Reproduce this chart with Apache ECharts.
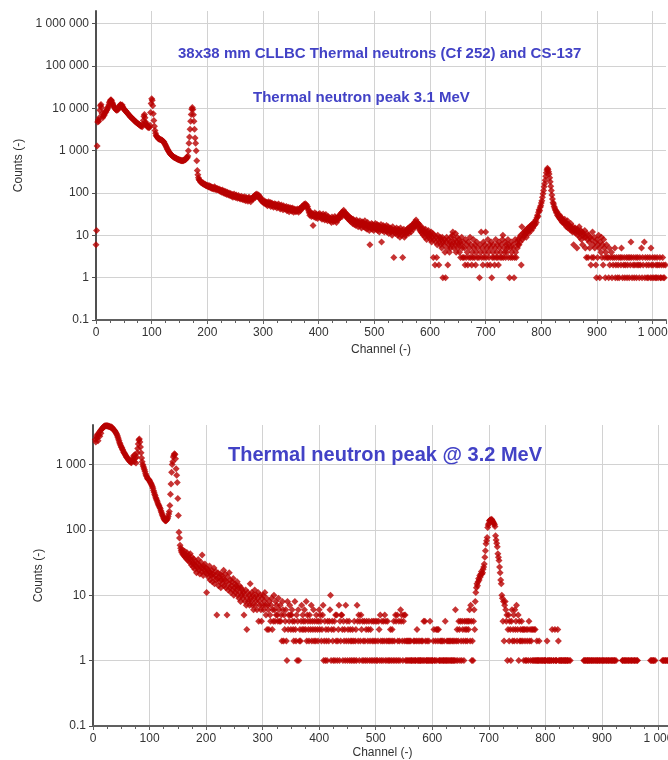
<!DOCTYPE html>
<html>
<head>
<meta charset="utf-8">
<title>CLLBC spectra</title>
<script src="https://cdn.jsdelivr.net/npm/echarts@6/dist/echarts.min.js"></script>
<style>
  html, body { margin: 0; padding: 0; background: #fff; }
  #chart { width: 668px; height: 760px; }
</style>
</head>
<body>
<div id="chart"></div>
<script>
// counts per channel (0 = empty channel, not drawn)
// upper plot: 38x38 mm CLLBC, Cf 252 + Cs-137
var topCounts0 = [ // ch 0-199
  6, 13, 1300, 4800, 5300, 5000, 6000, 9000, 11500, 12300, 10500, 7500, 6000, 6500, 7200, 7000, 7800, 8500, 8200, 9000,
  9400, 10200, 11000, 12000, 13500, 14500, 15500, 16000, 15200, 13800, 12800, 11800, 11200, 10500, 10200, 9600, 9300, 9000, 9500, 9200,
  9800, 10500, 11200, 11800, 12300, 11800, 11500, 12000, 11000, 10200, 9600, 9400, 9000, 8700, 8500, 8100, 7800, 7600, 7300, 7100,
  6800, 6600, 6300, 6200, 6000, 5800, 5600, 5500, 5300, 5200, 5000, 4900, 4700, 4600, 4500, 4400, 4300, 4200, 4100, 4000,
  3900, 3800, 3900, 3700, 4200, 5200, 6500, 7200, 6000, 4800, 4400, 4100, 3800, 3600, 3700, 3500, 3600, 4000, 8000, 13000,
  17000, 15500, 11500, 7500, 5200, 3800, 3000, 2600, 2300, 2200, 2100, 2000, 1950, 1900, 1900, 1850, 1850, 1800, 1800, 1750,
  1700, 1650, 1600, 1500, 1420, 1350, 1250, 1180, 1100, 1050, 980, 940, 900, 860, 830, 800, 780, 760, 740, 720,
  700, 690, 680, 670, 660, 650, 640, 630, 620, 610, 600, 600, 590, 590, 580, 580, 590, 580, 600, 600,
  610, 620, 650, 700, 680, 750, 1000, 1500, 2100, 3200, 5000, 7200, 9500, 10500, 9400, 7100, 5000, 3200, 2000, 1500,
  1000, 580, 340, 270, 230, 210, 200, 195, 180, 185, 175, 170, 165, 172, 160, 158, 162, 150, 155, 148
];
var topCounts1 = [ // ch 200-399
  145, 152, 140, 138, 148, 135, 142, 130, 138, 128, 136, 125, 132, 140, 122, 130, 126, 118, 128, 122,
  118, 125, 112, 120, 108, 115, 105, 118, 110, 100, 112, 104, 96, 108, 100, 92, 105, 98, 90, 100,
  94, 86, 98, 90, 84, 92, 80, 88, 95, 82, 86, 78, 90, 84, 75, 82, 88, 76, 80, 72,
  78, 84, 74, 70, 80, 76, 68, 82, 72, 66, 78, 74, 70, 64, 76, 80, 68, 72, 62, 74,
  70, 76, 80, 72, 84, 88, 78, 92, 86, 95, 88, 82, 90, 78, 84, 72, 76, 66, 70, 62,
  64, 58, 66, 60, 56, 62, 54, 60, 50, 58, 62, 52, 56, 60, 48, 55, 58, 50, 54, 46,
  52, 56, 48, 54, 50, 44, 52, 48, 55, 46, 50, 42, 48, 52, 44, 47, 40, 50, 45, 42,
  46, 42, 48, 38, 44, 40, 46, 36, 42, 45, 39, 43, 37, 44, 40, 35, 42, 38, 41, 36,
  40, 37, 42, 38, 35, 40, 43, 38, 45, 42, 48, 44, 50, 47, 54, 52, 56, 50, 53, 46,
  48, 42, 38, 34, 30, 36, 32, 28, 33, 29, 17, 31, 27, 34, 30, 26, 32, 28, 25, 30
];
var topCounts2 = [ // ch 400-599
  31, 27, 33, 29, 26, 30, 24, 28, 32, 25, 29, 23, 27, 31, 24, 26, 22, 28, 25, 23,
  26, 22, 24, 20, 27, 23, 25, 21, 24, 28, 22, 26, 20, 25, 23, 27, 24, 29, 26, 32,
  30, 34, 28, 36, 33, 39, 31, 35, 29, 33, 27, 31, 25, 29, 24, 27, 22, 26, 21, 25,
  23, 19, 24, 21, 18, 22, 20, 17, 23, 19, 21, 16, 20, 18, 22, 17, 19, 15, 21, 18,
  20, 16, 18, 22, 15, 19, 17, 14, 20, 16, 18, 13, 6, 17, 15, 19, 14, 18, 16, 13,
  17, 15, 19, 14, 16, 18, 13, 15, 17, 12, 16, 14, 18, 7, 15, 13, 17, 14, 12, 16,
  15, 13, 17, 12, 14, 16, 11, 14, 13, 15, 12, 14, 10, 16, 13, 3, 12, 14, 11, 13,
  15, 12, 10, 14, 11, 13, 9, 15, 12, 10, 13, 3, 11, 14, 9, 12, 10, 13, 11, 14,
  12, 15, 11, 13, 16, 14, 12, 17, 15, 18, 14, 19, 16, 21, 17, 23, 18, 20, 16, 19,
  15, 18, 13, 16, 12, 14, 11, 15, 10, 13, 12, 9, 14, 11, 8, 12, 10, 13, 9, 11
];
var topCounts3 = [ // ch 600-799
  10, 8, 12, 7, 9, 11, 3, 8, 10, 2, 7, 9, 3, 6, 10, 8, 2, 7, 9, 6,
  8, 5, 9, 1, 7, 6, 8, 4, 1, 7, 9, 5, 2, 8, 6, 4, 7, 5, 9, 6,
  10, 12, 7, 5, 8, 6, 11, 4, 7, 9, 5, 6, 8, 4, 7, 3, 6, 9, 5, 3,
  7, 3, 5, 2, 8, 3, 6, 4, 2, 7, 3, 5, 9, 3, 6, 2, 4, 3, 8, 5,
  3, 6, 2, 4, 7, 3, 5, 0, 3, 1, 6, 4, 12, 3, 5, 2, 7, 3, 4, 6,
  12, 3, 5, 2, 8, 4, 3, 6, 2, 5, 7, 1, 3, 4, 6, 3, 2, 5, 8, 3,
  4, 6, 3, 2, 7, 5, 3, 4, 6, 3, 8, 10, 3, 5, 4, 7, 3, 6, 4, 5,
  8, 3, 6, 1, 5, 3, 7, 4, 3, 6, 5, 1, 3, 8, 4, 3, 7, 5, 6, 8,
  6, 9, 7, 10, 2, 16, 8, 11, 9, 12, 10, 13, 11, 9, 14, 12, 15, 11, 13, 16,
  14, 17, 13, 18, 16, 15, 19, 17, 21, 18, 23, 20, 26, 30, 28, 35, 40, 38, 46, 50
];
var topCounts4 = [ // ch 800-1023
  58, 66, 80, 96, 115, 140, 165, 200, 250, 300, 350, 385, 360, 320, 280, 230, 185, 145, 115, 90,
  72, 60, 55, 48, 44, 40, 38, 34, 36, 30, 32, 28, 26, 30, 24, 27, 22, 25, 20, 23,
  21, 19, 24, 18, 20, 16, 19, 22, 15, 18, 17, 14, 16, 19, 13, 15, 12, 16, 6, 14,
  12, 15, 11, 13, 5, 14, 10, 12, 16, 9, 11, 13, 8, 12, 6, 10, 11, 9, 13, 5,
  9, 3, 11, 8, 3, 10, 7, 5, 9, 2, 8, 3, 12, 6, 3, 9, 5, 7, 2, 1,
  8, 3, 6, 10, 5, 1, 7, 4, 9, 3, 6, 2, 8, 5, 3, 1, 4, 6, 3, 0,
  3, 1, 5, 2, 3, 0, 4, 1, 3, 2, 0, 3, 5, 1, 2, 3, 0, 1, 2, 3,
  1, 0, 3, 2, 5, 3, 1, 0, 2, 3, 1, 2, 0, 3, 1, 2, 3, 0, 1, 3,
  2, 7, 3, 1, 0, 2, 3, 1, 2, 0, 3, 1, 2, 3, 0, 2, 1, 3, 2, 0,
  5, 1, 3, 2, 0, 7, 1, 3, 0, 2, 1, 3, 1, 2, 0, 3, 1, 5, 2, 1,
  3, 2, 1, 0, 3, 1, 2, 1, 3, 2, 1, 0, 2, 3, 1, 1, 2, 0, 3, 1, 2, 1, 0, 2
];

// lower plot: thermal neutron peak @ 3.2 MeV
var botCounts0 = [ // ch 0-199
  0, 0, 0, 0, 2400, 2200, 2700, 2500, 2900, 2300, 2800, 3100, 2700, 3300, 3000, 3400, 3500, 3600, 3700, 3800,
  3800, 3900, 3850, 3900, 3900, 3850, 3900, 3800, 3850, 3750, 3800, 3700, 3750, 3600, 3650, 3500, 3450, 3350, 3300, 3200,
  3100, 3000, 2900, 2750, 2600, 2450, 2300, 2150, 2050, 1950, 1850, 1800, 1700, 1650, 1550, 1500, 1450, 1400, 1350, 1300,
  1280, 1240, 1200, 1170, 1150, 1120, 1100, 1080, 1060, 1150, 1250, 1180, 1350, 1100, 1400, 1250, 1050, 1300, 1500, 1750,
  2050, 2350, 2450, 2200, 1850, 1500, 1250, 1100, 1000, 940, 880, 830, 780, 720, 680, 650, 620, 600, 590, 580,
  560, 540, 520, 500, 480, 455, 430, 400, 375, 350, 330, 310, 295, 280, 265, 250, 240, 230, 220, 210,
  195, 185, 175, 165, 158, 150, 145, 140, 137, 138, 140, 145, 150, 160, 175, 190, 235, 350, 500, 760,
  1000, 1100, 1300, 1380, 1450, 1420, 1220, 860, 680, 530, 300, 165, 92, 75, 58, 52, 48, 45, 50, 42,
  44, 40, 47, 38, 42, 36, 45, 39, 34, 41, 37, 32, 43, 35, 29, 38, 31, 27, 36, 30,
  25, 33, 28, 22, 31, 26, 35, 24, 29, 21, 27, 32, 23, 41, 26, 20, 28, 24, 30, 22
];
var botCounts1 = [ // ch 200-399
  26, 11, 21, 25, 19, 23, 28, 17, 22, 20, 24, 16, 21, 19, 26, 15, 20, 23, 17, 5,
  18, 22, 14, 19, 16, 21, 13, 17, 20, 15, 18, 24, 14, 17, 21, 13, 16, 5, 19, 12,
  15, 22, 13, 17, 11, 14, 16, 12, 18, 10, 13, 15, 11, 14, 12, 16, 10, 13, 9, 14,
  11, 8, 13, 10, 12, 9, 11, 5, 10, 8, 12, 7, 3, 9, 11, 8, 10, 7, 15, 9,
  8, 11, 7, 10, 6, 9, 12, 7, 8, 10, 6, 9, 11, 4, 8, 7, 10, 6, 4, 9,
  7, 10, 6, 8, 11, 7, 5, 9, 3, 7, 6, 3, 8, 5, 4, 7, 9, 3, 6, 4,
  10, 6, 4, 8, 5, 7, 5, 4, 9, 6, 4, 7, 4, 5, 2, 8, 6, 2, 5, 3,
  4, 6, 2, 1, 8, 3, 5, 4, 7, 5, 3, 5, 6, 4, 3, 2, 4, 8, 3, 2,
  5, 1, 4, 6, 1, 2, 3, 2, 4, 7, 3, 5, 4, 3, 6, 4, 3, 8, 2, 5,
  4, 3, 2, 5, 4, 3, 7, 2, 4, 3, 6, 2, 4, 3, 2, 5, 4, 3, 2, 4
];
var botCounts2 = [ // ch 400-599
  6, 3, 5, 4, 2, 3, 5, 7, 1, 2, 4, 1, 3, 2, 1, 4, 3, 2, 4, 6,
  10, 1, 3, 4, 2, 1, 3, 4, 1, 5, 2, 5, 1, 2, 3, 7, 1, 4, 2, 5,
  5, 3, 1, 4, 2, 3, 1, 7, 2, 4, 1, 3, 2, 4, 1, 3, 2, 1, 2, 3,
  1, 2, 4, 1, 2, 3, 1, 7, 4, 2, 5, 1, 4, 2, 5, 3, 1, 4, 2, 1,
  4, 2, 1, 3, 4, 1, 2, 3, 4, 1, 2, 3, 1, 4, 2, 1, 4, 2, 1, 4,
  2, 1, 4, 1, 2, 4, 3, 1, 5, 2, 1, 4, 2, 1, 4, 2, 5, 1, 4, 2,
  1, 4, 2, 1, 2, 1, 3, 2, 1, 3, 2, 1, 4, 2, 1, 5, 4, 1, 5, 2,
  1, 4, 2, 1, 6, 4, 5, 2, 1, 4, 5, 2, 5, 1, 2, 1, 2, 1, 2, 1,
  2, 1, 2, 1, 1, 0, 1, 2, 1, 2, 1, 1, 2, 3, 1, 2, 1, 1, 2, 1,
  1, 2, 1, 2, 1, 4, 1, 4, 2, 1, 1, 2, 1, 1, 2, 1, 4, 1, 0, 1
];
var botCounts3 = [ // ch 600-799
  1, 1, 2, 3, 1, 1, 2, 3, 1, 3, 2, 3, 1, 1, 2, 1, 2, 1, 2, 1,
  1, 2, 1, 4, 1, 1, 2, 1, 2, 1, 2, 1, 2, 1, 1, 2, 1, 2, 1, 1,
  2, 6, 1, 2, 3, 1, 2, 4, 3, 1, 4, 2, 1, 4, 3, 2, 1, 4, 3, 2,
  4, 3, 2, 4, 3, 4, 6, 2, 7, 4, 1, 2, 1, 4, 6, 3, 8, 11, 13, 15,
  14, 16, 18, 17, 20, 19, 21, 23, 21, 22, 25, 27, 30, 38, 48, 61, 68, 76, 108, 118,
  125, 137, 140, 142, 138, 145, 140, 134, 130, 125, 120, 112, 81, 70, 62, 55, 43, 38, 34, 27,
  22, 17, 15, 10, 9, 4, 8, 2, 7, 8, 6, 4, 5, 1, 3, 5, 2, 4, 3, 1,
  4, 6, 2, 3, 5, 2, 6, 3, 4, 7, 2, 3, 5, 1, 4, 2, 3, 2, 4, 3,
  2, 3, 1, 3, 2, 1, 3, 1, 2, 3, 1, 4, 2, 3, 1, 2, 3, 1, 3, 1,
  3, 1, 3, 1, 1, 2, 1, 1, 1, 2, 1, 0, 1, 1, 0, 1, 1, 0, 1, 1
];
var botCounts4 = [ // ch 800-1023
  1, 1, 0, 2, 1, 1, 0, 1, 1, 0, 1, 1, 3, 0, 1, 1, 0, 3, 1, 1,
  1, 0, 3, 2, 1, 1, 0, 1, 1, 1, 0, 1, 1, 0, 1, 1, 1, 0, 1, 1,
  1, 0, 1, 0, 1, 0, 0, 0, 0, 0, 0, 0, 0, 0, 0, 0, 0, 0, 0, 0,
  0, 0, 0, 0, 0, 0, 0, 0, 1, 1, 0, 1, 1, 0, 1, 1, 1, 0, 1, 1,
  0, 1, 1, 0, 1, 1, 0, 1, 0, 1, 1, 0, 1, 1, 0, 1, 1, 0, 1, 0,
  1, 1, 0, 1, 1, 0, 1, 0, 1, 1, 0, 1, 1, 0, 1, 0, 1, 1, 0, 1,
  1, 0, 1, 1, 0, 1, 0, 0, 0, 0, 0, 0, 0, 0, 0, 0, 1, 1, 0, 1,
  1, 0, 1, 1, 0, 1, 0, 1, 1, 0, 1, 0, 1, 1, 0, 1, 0, 1, 1, 0,
  1, 0, 1, 1, 0, 0, 0, 0, 0, 0, 0, 0, 0, 0, 0, 0, 0, 0, 0, 0,
  0, 0, 0, 0, 0, 0, 1, 0, 1, 1, 0, 1, 1, 0, 1, 0, 0, 0, 0, 0,
  0, 0, 0, 0, 0, 0, 0, 1, 0, 1, 1, 0, 1, 1, 0, 1, 1, 0, 1, 0, 1, 1, 0, 1
];

var topTitle1 = '38x38 mm CLLBC Thermal neutrons (Cf 252) and CS-137';
var topTitle2 = 'Thermal neutron peak 3.1 MeV';
var botTitle = 'Thermal neutron peak @ 3.2 MeV';

var FONT = "'Liberation Sans', Arial, sans-serif";
var RED = '#b80000';
var BLUE = '#4242c6';

// channel number -> [channel, counts], empty channels left out (log axis)
function toPoints(chunks) {
  var pts = [];
  var ch = 0;
  chunks.forEach(function (arr) {
    arr.forEach(function (v) {
      if (v > 0) pts.push([ch, v]);
      ch++;
    });
  });
  return pts;
}

function fmtNum(v) {
  if (v < 1) return String(Math.round(v * 10) / 10);
  return String(Math.round(v)).replace(/\B(?=(\d{3})+(?!\d))/g, ' ');
}

function xAxisFor(gi, nameGap) {
  return {
    type: 'value', gridIndex: gi, min: 0, max: 1024, interval: 100,
    name: 'Channel (-)', nameLocation: 'middle', nameGap: nameGap,
    nameTextStyle: { color: '#333', fontSize: 12, fontFamily: FONT },
    axisLine: { show: true, lineStyle: { color: '#606060', width: 2 } },
    axisTick: { show: true, length: 4, lineStyle: { color: '#606060' } },
    minorTick: { show: true, splitNumber: 4, length: 3, lineStyle: { color: '#606060' } },
    axisLabel: { showMaxLabel: false, margin: 7, color: '#333', fontSize: 12, fontFamily: FONT, formatter: fmtNum },
    splitLine: { show: true, showMaxLine: false, lineStyle: { color: '#d2d2d2' } }
  };
}

function yAxisFor(gi, max, nameGap) {
  return {
    type: 'log', logBase: 10, gridIndex: gi, min: 0.1, max: max,
    name: 'Counts (-)', nameLocation: 'middle', nameGap: nameGap, nameRotate: 90,
    nameTextStyle: { color: '#333', fontSize: 12, fontFamily: FONT },
    axisLine: { show: true, lineStyle: { color: '#505050', width: 2 } },
    axisTick: { show: true, length: 4, lineStyle: { color: '#505050' } },
    axisLabel: { showMaxLabel: false, margin: 7, color: '#333', fontSize: 12, fontFamily: FONT, formatter: fmtNum },
    splitLine: { show: true, showMaxLine: false, lineStyle: { color: '#d2d2d2' } }
  };
}

var chart = echarts.init(document.getElementById('chart'), null, { renderer: 'canvas' });

var option = {
  backgroundColor: '#fff',
  animation: false,
  title: [
    { text: topTitle1, left: 178, top: 46, padding: 0,
      textStyle: { color: BLUE, fontSize: 15, fontWeight: 'bold', fontFamily: FONT } },
    { text: topTitle2, left: 253, top: 90, padding: 0,
      textStyle: { color: BLUE, fontSize: 15, fontWeight: 'bold', fontFamily: FONT } },
    { text: botTitle, left: 228, top: 445, padding: 0,
      textStyle: { color: BLUE, fontSize: 20, fontWeight: 'bold', fontFamily: FONT } }
  ],
  grid: [
    { left: 96, right: 2, top: 11, bottom: 440, outerBoundsMode: 'none' },
    { left: 93, right: -4, top: 425, bottom: 34, outerBoundsMode: 'none' }
  ],
  xAxis: [xAxisFor(0, 24), xAxisFor(1, 21)],
  yAxis: [yAxisFor(0, 2000000, 68), yAxisFor(1, 4000, 45)],
  series: [
    {
      name: 'CLLBC Cf-252 + Cs-137', type: 'scatter', xAxisIndex: 0, yAxisIndex: 0,
      symbol: 'diamond', symbolSize: 7, itemStyle: { color: RED },
      data: toPoints([topCounts0, topCounts1, topCounts2, topCounts3, topCounts4])
    },
    {
      name: 'CLLBC thermal neutrons', type: 'scatter', xAxisIndex: 1, yAxisIndex: 1,
      symbol: 'diamond', symbolSize: 7, itemStyle: { color: RED },
      data: toPoints([botCounts0, botCounts1, botCounts2, botCounts3, botCounts4])
    }
  ]
};

chart.setOption(option);
</script>
</body>
</html>
